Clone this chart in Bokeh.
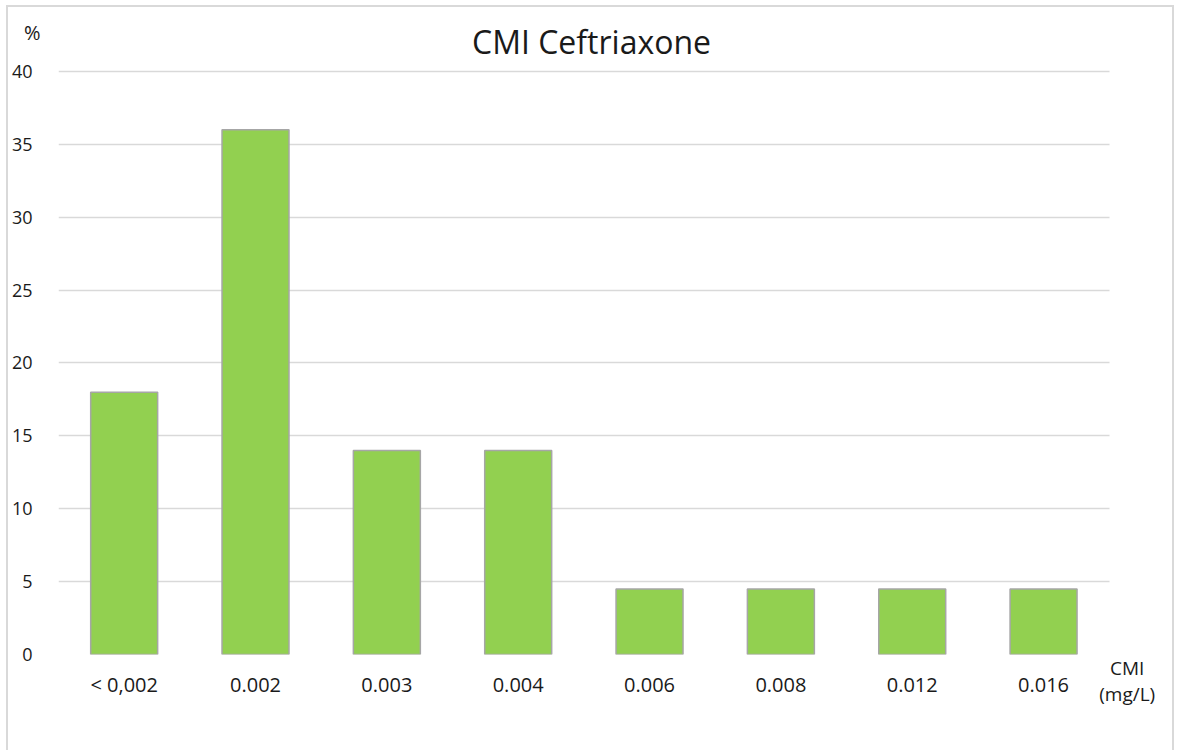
from bokeh.plotting import figure
from bokeh.models import Label, Range1d, FixedTicker, LinearAxis, ColumnDataSource
from bokeh.embed import file_html
from bokeh.resources import INLINE

categories = ["< 0,002", "0.002", "0.003", "0.004", "0.006", "0.008", "0.012", "0.016"]
values = [18, 36, 14, 14, 4.5, 4.5, 4.5, 4.5]
y_ticks = [0, 5, 10, 15, 20, 25, 30, 35, 40]
y_unit_label = "%"
x_unit_label = "CMI\n(mg/L)"
title_text = "CMI Ceftriaxone"

FONT = "Open Sans"
TXT = "#1a1a1a"

n = len(categories)
xpos = [i + 0.5 for i in range(n)]
src = ColumnDataSource(dict(x=xpos, top=values, cat=categories))

p = figure(width=1168, height=745, output_backend="svg",
           toolbar_location=None, min_border_left=50, min_border_right=41,
           min_border_top=9, min_border_bottom=98,
           x_range=Range1d(0, 8.2), y_range=Range1d(0, 43.77),
           x_axis_location=None)
p.styles = {"border-top": "2px solid #d9d9d9", "border-left": "2px solid #d9d9d9",
            "border-right": "2px solid #d9d9d9", "box-sizing": "border-box",
            "margin-left": "6px", "margin-top": "5px"}
p.outline_line_color = None
p.title.visible = False

# grid restricted to the category span
p.xgrid.grid_line_color = None
p.ygrid.ticker = FixedTicker(ticks=y_ticks)
p.ygrid.grid_line_color = "#d9d9d9"
p.ygrid.grid_line_width = 1.5
try:
    p.ygrid.cross_bounds = (0, n)
except Exception:
    p.ygrid.grid_line_color = None
    p.segment(x0=[0] * len(y_ticks), x1=[n] * len(y_ticks), y0=y_ticks, y1=y_ticks,
              line_color="#d9d9d9", line_width=1.5)

p.vbar(x="x", top="top", width=0.51, source=src, fill_color="#92D050",
       line_color="#a6a6a6", line_width=1.5)


def plain(ax):
    ax.axis_line_color = None
    ax.major_tick_line_color = None
    ax.minor_tick_line_color = None
    ax.major_label_text_font = FONT
    ax.major_label_text_color = TXT


# y axis
p.yaxis.ticker = FixedTicker(ticks=y_ticks)
plain(p.yaxis[0])
p.yaxis.major_label_text_font_size = "18px"
p.yaxis.major_label_standoff = 20

# second left axis holding the unit label
pct_pos = 42.7
ya2 = LinearAxis(ticker=FixedTicker(ticks=[pct_pos]),
                 major_label_overrides={pct_pos: y_unit_label})
plain(ya2)
ya2.major_label_text_font_size = "20px"
ya2.major_label_standoff = -38
p.add_layout(ya2, "left")

# x axis with the categories
xa = LinearAxis(ticker=FixedTicker(ticks=xpos),
                major_label_overrides={x: c for x, c in zip(xpos, categories)})
plain(xa)
xa.major_label_text_font_size = "20px"
xa.major_label_standoff = 10
p.add_layout(xa, "below")

# second axis holding the x unit label
cmi_pos = 8.137
xa2 = LinearAxis(ticker=FixedTicker(ticks=[cmi_pos]),
                 major_label_overrides={cmi_pos: x_unit_label})
plain(xa2)
xa2.major_label_text_font_size = "19px"
xa2.major_label_text_line_height = 1.0
xa2.major_label_standoff = -52
p.add_layout(xa2, "below")

p.add_layout(Label(x=533, y=613, x_units="screen", y_units="screen", text=title_text,
                   text_font=FONT, text_font_size="32px", text_color=TXT,
                   text_baseline="alphabetic", text_align="center"))

open("out.html", "w").write(file_html(p, INLINE))
